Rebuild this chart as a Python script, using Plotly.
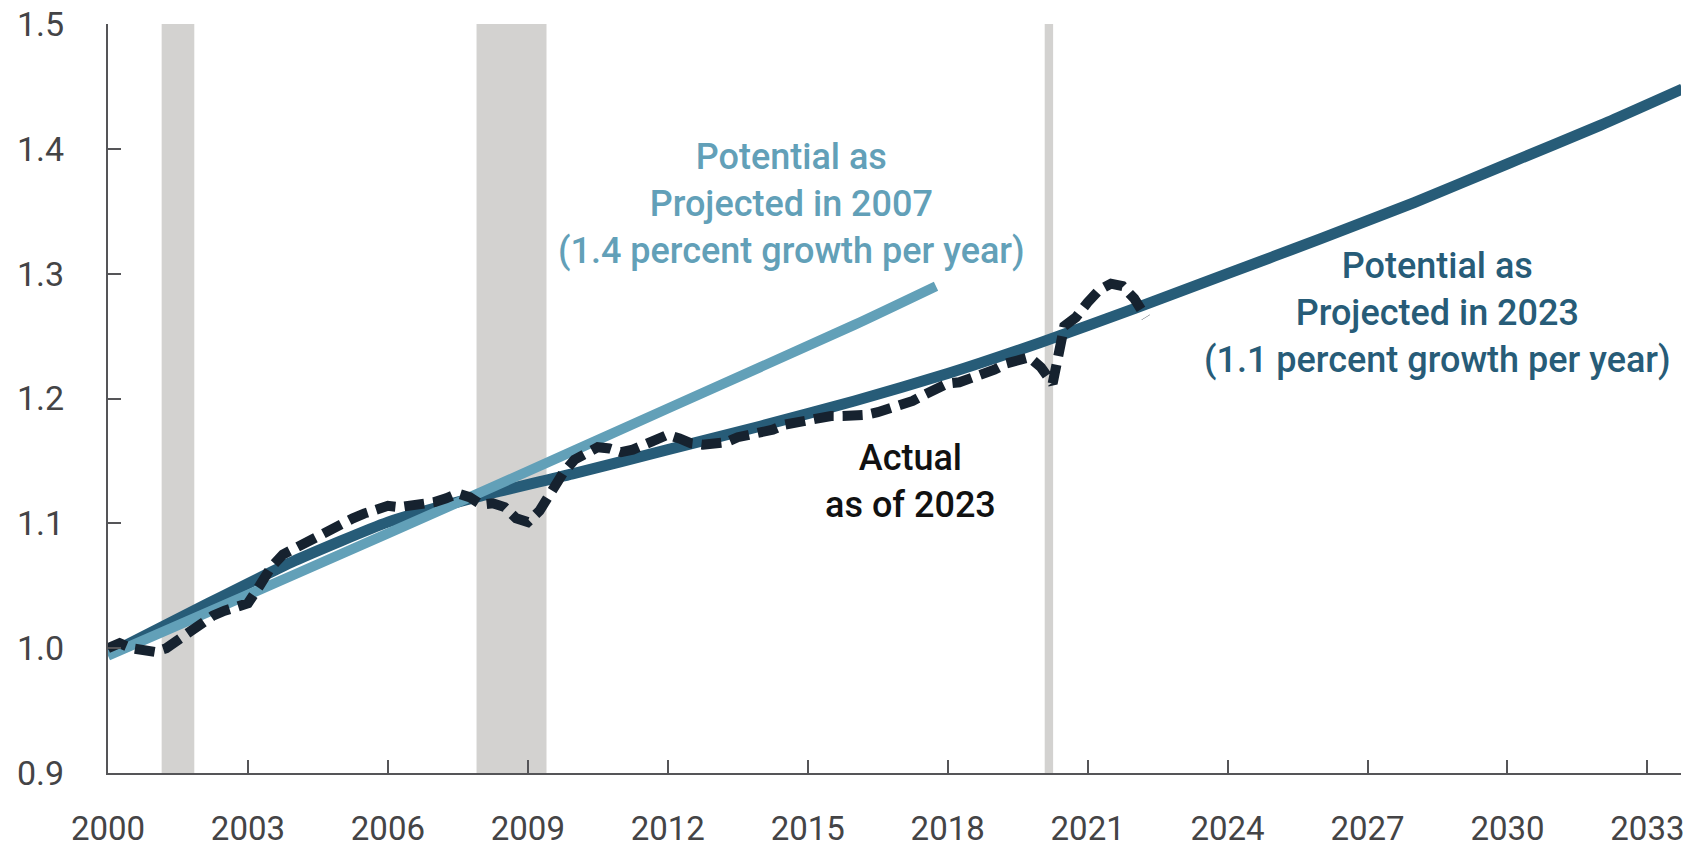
import plotly.graph_objects as go

# ---- data ----
actual_start_year = 2000
actual_values = [
    1.000, 1.004, 1.000, 0.999,   # 2000
    0.997, 1.000, 1.007, 1.013,   # 2001
    1.020, 1.026, 1.030, 1.032,   # 2002
    1.036, 1.050, 1.065, 1.075,   # 2003
    1.080, 1.085, 1.090, 1.095,   # 2004
    1.101, 1.104, 1.108, 1.111,   # 2005
    1.114, 1.113, 1.114, 1.116,   # 2006
    1.117, 1.120, 1.124, 1.121,   # 2007
    1.115, 1.116, 1.113, 1.104,   # 2008
    1.101, 1.110, 1.125, 1.140,   # 2009
    1.151, 1.156, 1.161, 1.160,   # 2010
    1.157, 1.159, 1.163, 1.168,   # 2011
    1.171, 1.168, 1.164, 1.163,   # 2012
    1.163, 1.165, 1.169, 1.171,   # 2013
    1.171, 1.175, 1.179, 1.181,   # 2014
    1.184, 1.185, 1.186, 1.186,   # 2015
    1.186, 1.187, 1.189, 1.192,   # 2016
    1.194, 1.198, 1.203, 1.208,   # 2017
    1.212, 1.213, 1.216, 1.219,   # 2018
    1.223, 1.228, 1.231, 1.233,   # 2019
    1.225, 1.212, 1.258, 1.265,   # 2020
    1.277, 1.287, 1.292, 1.290,   # 2021
    1.280, 1.265,                 # 2022
]
actual_years = [actual_start_year + i / 4 for i in range(len(actual_values))]

pot2007_years = [2000, 2004, 2008, 2012, 2016, 2017.75]
pot2007_values = [0.994, 1.059, 1.125, 1.192, 1.259, 1.290]

pot2023_years = [2000, 2002, 2004, 2006, 2008, 2010, 2012, 2014, 2016, 2018,
                 2020, 2022, 2024, 2026, 2028, 2030, 2032, 2033.75]
pot2023_values = [0.995, 1.033, 1.070, 1.101, 1.122, 1.140, 1.159, 1.178, 1.198, 1.220,
                  1.245, 1.272, 1.300, 1.328, 1.357, 1.388, 1.419, 1.448]

recession_start = [2001.15, 2007.90, 2020.08]
recession_end = [2001.85, 2009.40, 2020.26]

x_ticks = [2000, 2003, 2006, 2009, 2012, 2015, 2018, 2021, 2024, 2027, 2030, 2033]
y_ticks = [0.9, 1.0, 1.1, 1.2, 1.3, 1.4, 1.5]

# ---- styles ----
C_DARK = "#275c78"
C_LIGHT = "#62a0b8"
C_ACTUAL = "#16222f"
C_BAND = "#d3d2d0"
C_AXIS = "#555558"
FONT = "Roboto"

fig = go.Figure()

fig.add_trace(go.Scatter(x=pot2023_years, y=pot2023_values, mode="lines",
                         line=dict(color=C_DARK, width=11, shape="spline", smoothing=0.5),
                         hoverinfo="skip", showlegend=False))
fig.add_trace(go.Scatter(x=pot2007_years, y=pot2007_values, mode="lines",
                         line=dict(color=C_LIGHT, width=10, shape="spline", smoothing=0.5),
                         hoverinfo="skip", showlegend=False))
fig.add_trace(go.Scatter(x=actual_years, y=actual_values, mode="lines",
                         line=dict(color=C_ACTUAL, width=10, dash="20px,9px"),
                         hoverinfo="skip", showlegend=False))

for s, e in zip(recession_start, recession_end):
    fig.add_shape(type="rect", xref="x", yref="y", x0=s, x1=e, y0=y_ticks[0], y1=y_ticks[-1],
                  fillcolor=C_BAND, line=dict(width=0), layer="below")

fig.add_annotation(x=2014.66, y=1.356, xref="x", yref="y",
                   text="Potential as<br>Projected in 2007<br>(1.4 percent growth per year)",
                   showarrow=False, align="center", xanchor="center", yanchor="middle",
                   font=dict(family=FONT, size=36, color=C_LIGHT, weight=500))
fig.add_annotation(x=2028.50, y=1.2688, xref="x", yref="y",
                   text="Potential as<br>Projected in 2023<br>(1.1 percent growth per year)",
                   showarrow=False, align="center", xanchor="center", yanchor="middle",
                   font=dict(family=FONT, size=36, color=C_DARK, weight=500))
fig.add_annotation(x=2017.2, y=1.1335, xref="x", yref="y",
                   text="Actual<br>as of 2023",
                   showarrow=False, align="center", xanchor="center", yanchor="middle",
                   font=dict(family=FONT, size=36, color="#111111", weight=500))

fig.update_layout(
    width=1688, height=848,
    margin=dict(l=108, r=7, t=24, b=75),
    paper_bgcolor="white", plot_bgcolor="white",
    font=dict(family=FONT),
)
fig.update_xaxes(range=[2000, 2033.72], tickvals=x_ticks, ticktext=[str(v) for v in x_ticks],
                 showgrid=False, zeroline=False, showline=True, linecolor=C_AXIS, linewidth=2,
                 ticks="inside", ticklen=13, tickwidth=2, tickcolor=C_AXIS, automargin=False,
                 tickfont=dict(family=FONT, size=33, color="#444446"), ticklabelstandoff=25)
fig.update_yaxes(range=[0.9, 1.5], tickvals=y_ticks, ticktext=[f"{v:.1f}" for v in y_ticks],
                 showgrid=False, zeroline=False, showline=True, linecolor=C_AXIS, linewidth=2,
                 ticks="inside", ticklen=13, tickwidth=2, tickcolor=C_AXIS, automargin=False,
                 tickfont=dict(family=FONT, size=34, color="#444446"), ticklabelstandoff=35)

fig.write_html("out.html")
